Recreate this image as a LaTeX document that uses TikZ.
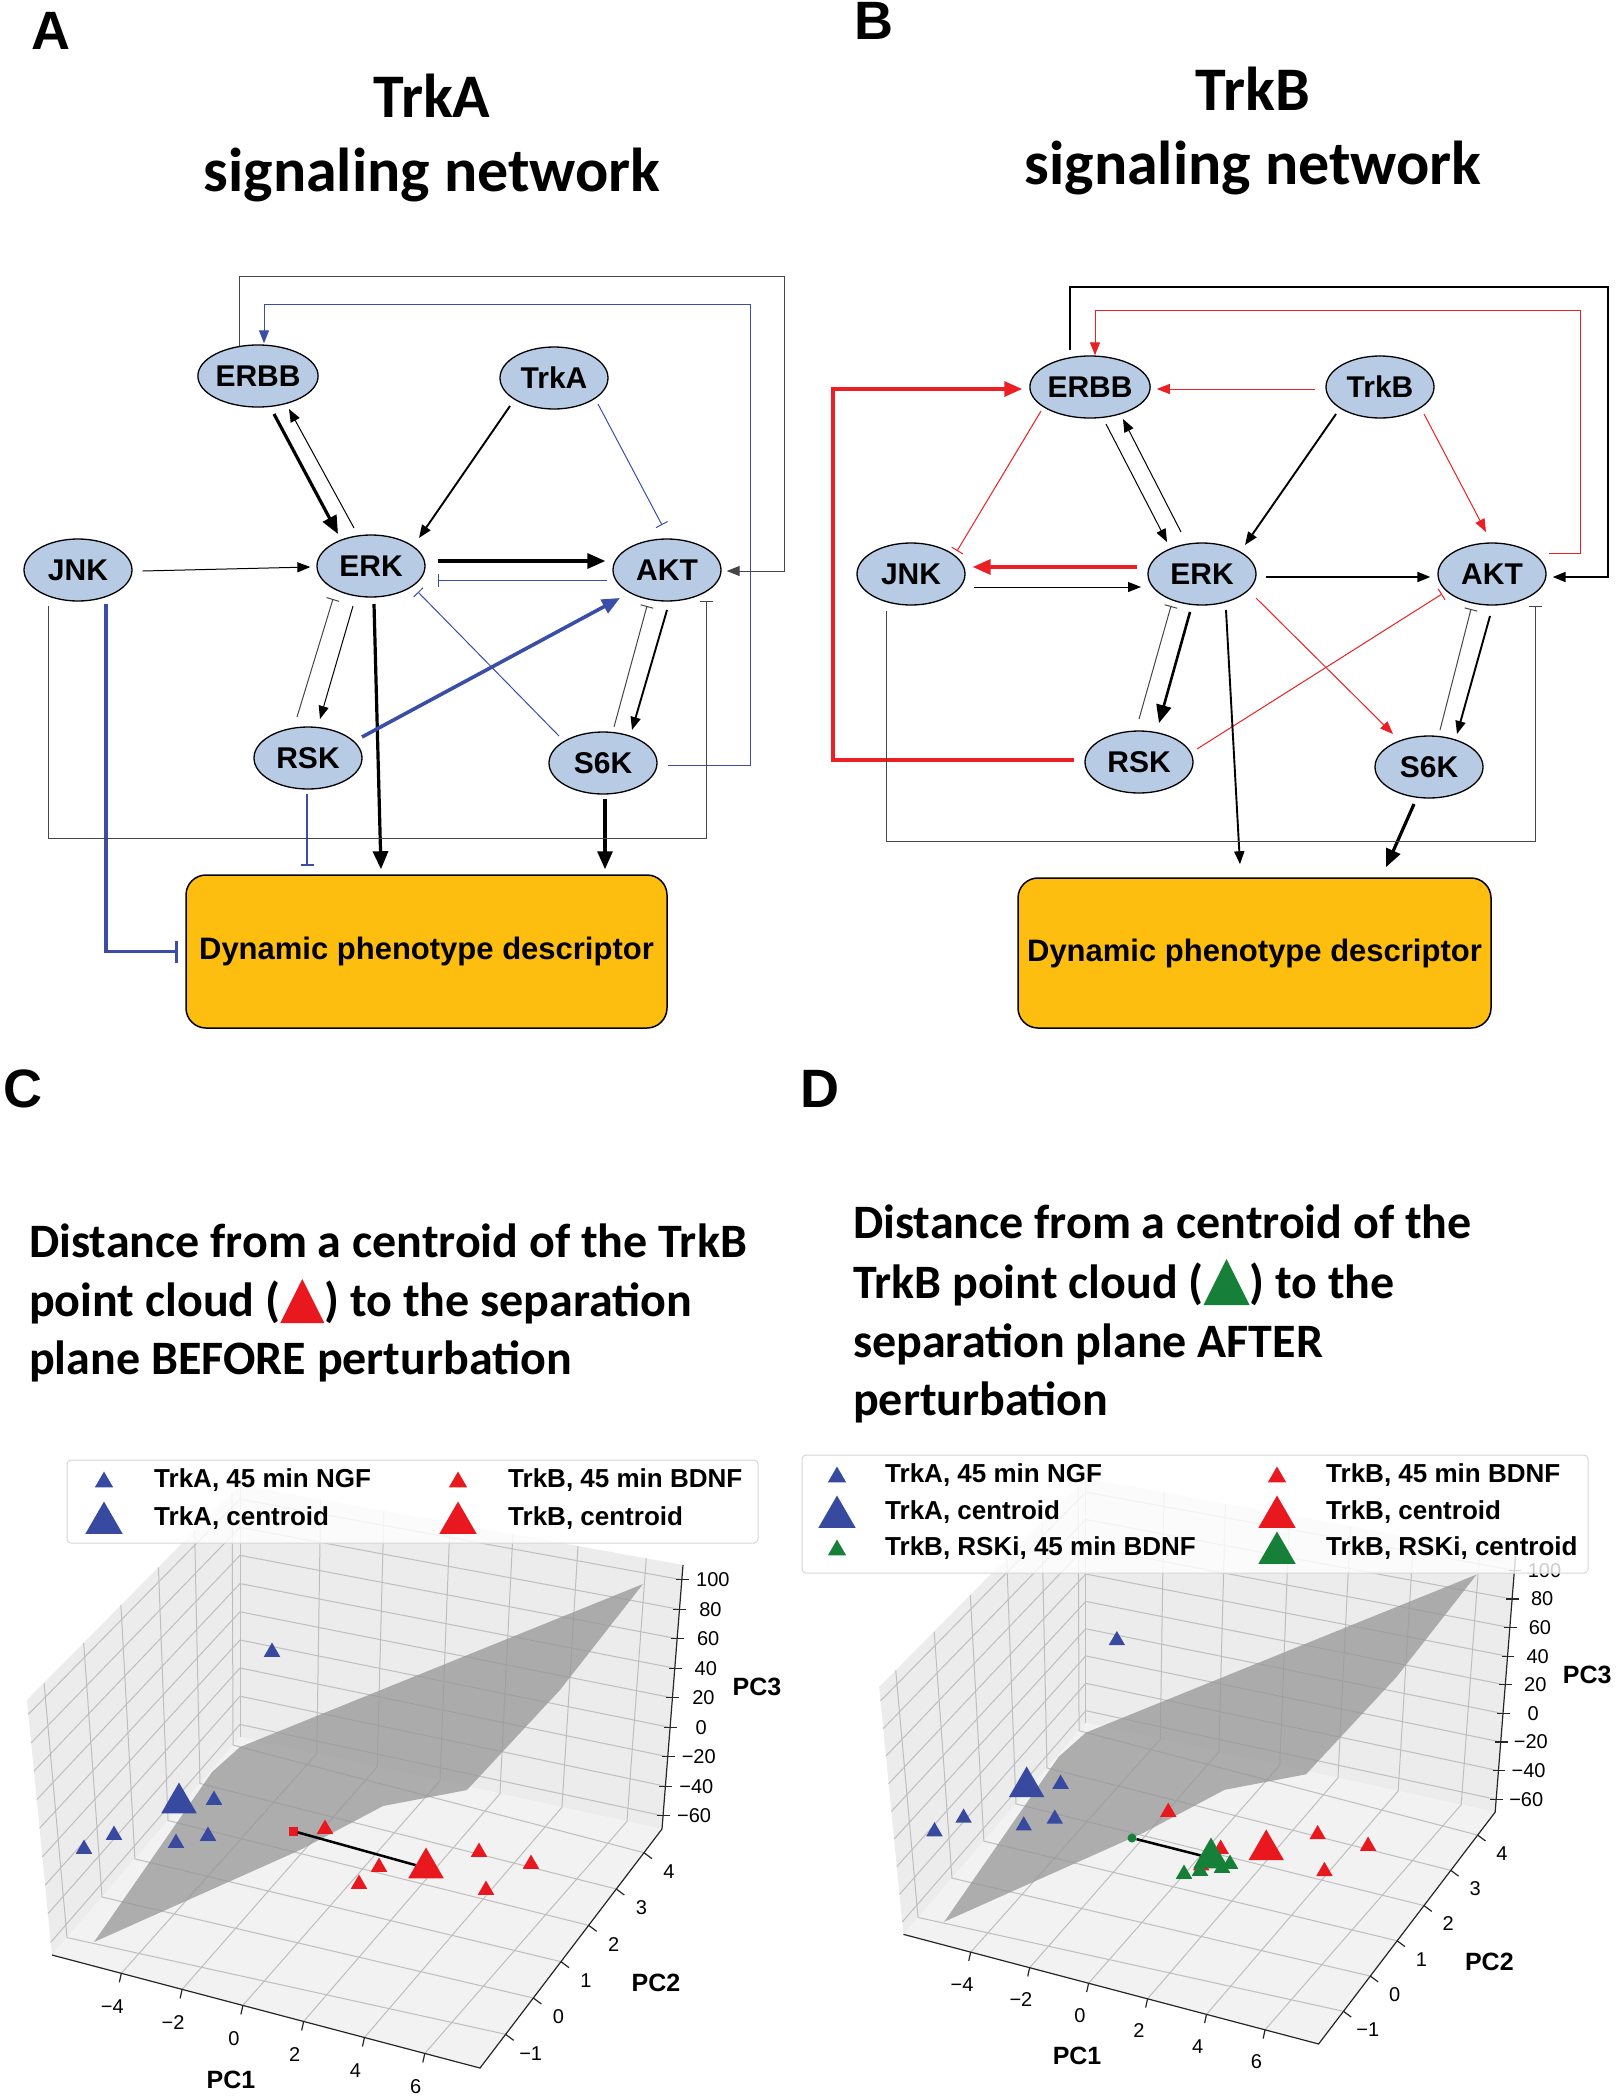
\documentclass[tikz,border=0pt]{standalone}
\usepackage{fontspec}
\setmainfont{Liberation Sans}
\newfontfamily\calib{Carlito}
\usetikzlibrary{arrows.meta,shapes.geometric,calc}
\definecolor{nodefill}{RGB}{184,203,228}
\definecolor{dpdc}{RGB}{253,190,16}
\definecolor{bl}{RGB}{58,78,168}
\definecolor{rd}{RGB}{236,32,36}
\definecolor{gr}{RGB}{70,70,70}
\definecolor{mblue}{RGB}{56,74,160}
\definecolor{mred}{RGB}{232,24,30}
\definecolor{mgreen}{RGB}{22,128,56}
\definecolor{wallc}{RGB}{236,236,236}
\definecolor{floorc}{RGB}{242,242,242}
\definecolor{gridc}{RGB}{190,190,190}
\definecolor{planec}{RGB}{150,150,150}
\definecolor{legedge}{RGB}{215,215,215}
\tikzset{
 prot/.style={ellipse, draw=black, line width=1.3pt, fill=nodefill, minimum width=108pt, minimum height=62pt, inner sep=0pt, font=\fontsize{30}{32}\selectfont\bfseries},
 dpdbox/.style={rectangle, rounded corners=20pt, draw=black, line width=1.5pt, fill=dpdc, inner sep=0pt, font=\fontsize{31}{33}\selectfont\bfseries},
 e1/.style={line width=1pt},
 e2/.style={line width=1.9pt},
 e3/.style={line width=3.2pt},
 ah/.style={-{Triangle[length=13pt,width=10pt]}},
 ahb/.style={-{Triangle[length=18pt,width=15pt]}},
 ih/.style={-{Bar[width=13pt]}},
 ihb/.style={-{Bar[width=22pt]}},
 lab/.style={inner sep=0pt, anchor=base west, font=\fontsize{54}{54}\selectfont\bfseries},
 ttl/.style={inner sep=0pt, anchor=base, font=\calib\fontsize{62}{62}\selectfont\bfseries},
 ptl/.style={inner sep=0pt, anchor=base west, font=\calib\fontsize{48}{48}\selectfont\bfseries},
 mk/.style={regular polygon, regular polygon sides=3, inner sep=0pt, draw=none},
 gridl/.style={draw=gridc, line width=1pt},
 axl/.style={draw=black!85, line width=1.2pt},
 tickf/.style={inner sep=0pt, font=\fontsize{20}{20}\selectfont},
 axlab/.style={inner sep=0pt, font=\fontsize{25}{25}\selectfont\bfseries},
 legt/.style={inner sep=0pt, anchor=west, font=\fontsize{26}{28}\selectfont\bfseries},
}
\newcommand\ttri[2]{\raisebox{-7pt}{\tikz\fill[#1] (0pt,0pt) -- (#2,0pt) -- ({#2/2},#2) -- cycle;}}
\newcommand\plotframe[1]{%
 \begin{scope}
 \clip (27,1380) rectangle (800,2100);
 \fill[wallc] (240,1737) -- (662,1829) -- (683,1565) -- (240,1485) -- cycle;
 \fill[wallc] (52,1955) -- (240,1737) -- (240,1485) -- (27,1700) -- cycle;
 \fill[floorc] (52,1955) -- (480,2068) -- (662,1829) -- (240,1737) -- cycle;
 \foreach \pa/\pb in {0.162/0.182,0.304/0.325,0.446/0.474,0.588/0.616,0.730/0.763,0.871/0.917}{
  \draw[gridl] ({52+428*\pa},{1955+113*\pa}) -- ({240+422*\pb},{1737+92*\pb}) -- ({240+443*\pb},{1485+80*\pb});
 }
 \foreach \pl/\pr in {0.080/0.141,0.266/0.293,0.441/0.445,0.617/0.597,0.787/0.749,0.963/0.901}{
  \draw[gridl] ({480+182*\pr},{2068-239*\pr}) -- ({52+188*\pl},{1955-218*\pl}) -- ({27+213*\pl},{1700-215*\pl});
 }
 \foreach \pt in {0.050,0.162,0.274,0.385,0.497,0.609,0.721,0.832,0.944}{
  \draw[gridl] ({52-25*\pt},{1955-255*\pt}) -- (240,{1737-252*\pt}) -- ({662+21*\pt},{1829-264*\pt});
 }
 \draw[gridl] (240,1737) -- (240,1485);
 \end{scope}
 \fill[planec, fill opacity=0.75] (643,1584) -- (240,1747) -- (212,1772) -- (94,1942) -- (300,1850) -- (383,1806) -- (467,1790) -- (560,1690) -- cycle;
 \draw[axl] (52,1955) -- (480,2068) -- (662,1829) -- (683,1565);
 \foreach \pa/\lab [count=\i] in {0.162/−4,0.304/−2,0.446/0,0.588/2,0.730/4,0.871/6}{
  \draw[axl] ({52+428*\pa},{1955+113*\pa}) -- ++(-2,9);
  \node[tickf] (#1-xt\i) at ({52+428*\pa-9},{1955+113*\pa+33}) {\lab};
 }
 \foreach \pr/\lab [count=\i] in {0.141/−1,0.293/0,0.445/1,0.597/2,0.749/3,0.901/4}{
  \draw[axl] ({480+182*\pr},{2068-239*\pr}) -- ++(8,6);
  \node[tickf] (#1-yt\i) at ({480+182*\pr+25},{2068-239*\pr+19}) {\lab};
 }
 \foreach \pt/\lab [count=\i] in {0.050/−60,0.162/−40,0.274/−20,0.385/0,0.497/20,0.609/40,0.721/60,0.832/80,0.944/100}{
  \draw[axl] ({662+21*\pt-6},{1829-264*\pt}) -- ++(13,0);
  \node[tickf] (#1-zt\i) at ({662+21*\pt+31},{1829-264*\pt}) {\lab};
 }
 \node[axlab] (#1-pc3) at (757,1687) {PC3};
 \node[axlab] (#1-pc2) at (656,1983) {PC2};
 \node[axlab] (#1-pc1) at (231,2080) {PC1};
}
\newcommand\bluered[1]{%
 \foreach \px/\py [count=\i] in {272/1650,84/1847,114/1833,176/1841,208/1834,214/1798}{
  \node[mk, fill=mblue, minimum size=19pt] (#1-bs\i) at (\px,{\py+2}) {};
 }
 \node[mk, fill=mblue, minimum size=41pt] (#1-bc) at (179,1803) {};
 \foreach \px/\py [count=\i] in {325/1827,379/1865,359/1882,479/1850,531/1862,486/1888}{
  \node[mk, fill=mred, minimum size=19pt] (#1-rs\i) at (\px,{\py+2}) {};
 }
 \node[mk, fill=mred, minimum size=41pt] (#1-rc) at (426,1868) {};
}
\begin{document}
\begin{tikzpicture}[x=1pt,y=-1pt]
\useasboundingbox (0,0) rectangle (1622,2100);
\fill[white] (0,0) rectangle (1622,2100);
% ---------------- Panel A ----------------
\node[lab] (labA) at (31,50) {A};
\node[ttl] (tA1) at (432,118) {TrkA};
\node[ttl] (tA2) at (432,192) {signaling network};
\node[prot] (aERBB) at (258,376) {ERBB};
\node[prot] (aTrkA) at (554,378) {TrkA};
\node[prot] (aJNK) at (78,570) {JNK};
\node[prot] (aERK) at (371,566) {ERK};
\node[prot] (aAKT) at (667,570) {AKT};
\node[prot] (aRSK) at (308,758) {RSK};
\node[prot] (aS6K) at (603,763) {S6K};
\node[dpdbox, minimum width=481pt, minimum height=153pt] (aDPD) at (426.5,951.5) {Dynamic phenotype descriptor};
\coordinate (ac1) at (784,276);
\draw[e1, gr, ah] ($(aERBB)+(-19,-30)$) |- (ac1) |- ($(aAKT.east)+(5,1)$);
\coordinate (ac2) at (750,304);
\draw[e1, bl, ah] ($(aS6K.east)+(10,2)$) -| (ac2) -| ($(aERBB.north)+(6,-1)$);
\draw[e3, ahb] ($(aERBB)+(16,38)$) -- ($(aERK)+(-33,-32)$);
\draw[e1, ah] ($(aERK)+(-17,-38)$) -- ($(aERBB)+(31,33)$);
\draw[e2, ah] ($(aTrkA)+(-44,28)$) -- ($(aERK)+(48,-28)$);
\draw[e1, bl, ih] ($(aTrkA)+(44,26)$) -- ($(aAKT)+(-5,-45)$);
\draw[e1, ah] ($(aJNK.east)+(10,1)$) -- ($(aERK.west)+(-6,1)$);
\draw[e3, ahb] ($(aERK.east)+(12,-5)$) -- ($(aAKT.west)+(-7,-9)$);
\draw[e1, bl, ih] ($(aAKT.west)+(-5,10)$) -- ($(aERK.east)+(12,14)$);
\draw[e1, gr, ih] ($(aRSK)+(-11,-41)$) -- ($(aERK)+(-38,33)$);
\draw[e1, ah] ($(aERK)+(-18,40)$) -- ($(aRSK)+(12,-39)$);
\draw[e3, ahb] ($(aERK)+(3,38)$) -- ($(aDPD.north)+(-45.5,-5)$);
\draw[line width=3.6pt, bl, ahb] ($(aRSK)+(54,-21)$) -- ($(aAKT)+(-47,28)$);
\draw[e1, bl, ih] ($(aS6K)+(-44,-27)$) -- ($(aERK)+(47,26)$);
\draw[e2, ah] ($(aAKT)+(0,40)$) -- ($(aS6K)+(29,-33)$);
\draw[e1, gr, ih] ($(aS6K)+(11,-36)$) -- ($(aAKT)+(-20,36)$);
\draw[e3, ahb] ($(aS6K)+(2,36)$) -- ($(aDPD.north)+(178.5,-5)$);
\draw[e2, bl, ih] ($(aRSK)+(-1,36)$) -- ($(aDPD.north)+(-119.5,-8)$);
\draw[e3, bl, ihb] ($(aJNK)+(28,34)$) |- ($(aDPD.west)+(-7,0)$);
\coordinate (ac3) at (706,838);
\draw[e1, gr, ih] ($(aJNK)+(-30,36)$) |- (ac3) -- ($(aAKT)+(39,31)$);
% ---------------- Panel B ----------------
\node[lab] (labB) at (854,40) {B};
\node[ttl] (tB1) at (1253,111) {TrkB};
\node[ttl] (tB2) at (1253,185) {signaling network};
\node[prot] (bERBB) at (1090,387) {ERBB};
\node[prot] (bTrkB) at (1380,387) {TrkB};
\node[prot] (bJNK) at (911,574) {JNK};
\node[prot] (bERK) at (1202,574) {ERK};
\node[prot] (bAKT) at (1492,574) {AKT};
\node[prot] (bRSK) at (1139,762) {RSK};
\node[prot] (bS6K) at (1429,767) {S6K};
\node[dpdbox, minimum width=473pt, minimum height=150pt] (bDPD) at (1254.5,953) {Dynamic phenotype descriptor};
\coordinate (bc1) at (1608,287);
\draw[e2, ah] ($(bERBB)+(-20,-37)$) |- (bc1) |- ($(bAKT.east)+(6,3)$);
\coordinate (bc2) at (1580,310);
\draw[e1, rd, ah] ($(bAKT)+(57,-21)$) -| (bc2) -| ($(bERBB.north)+(5,0)$);
\coordinate (bc3) at (833,389);
\draw[e3, rd, ahb] ($(bRSK.west)+(-10,-2)$) -| (bc3) -- ($(bERBB.west)+(-7,2)$);
\draw[e1, rd, ah] ($(bTrkB.west)+(-10,2)$) -- ($(bERBB.east)+(6,2)$);
\draw[e1, rd, ih] ($(bERBB)+(-49,24)$) -- ($(bJNK)+(46,-23)$);
\draw[e1, ah] ($(bERBB)+(16,37)$) -- ($(bERK)+(-35,-32)$);
\draw[e1, ah] ($(bERK)+(-21,-42)$) -- ($(bERBB)+(33,32)$);
\draw[e2, ah] ($(bTrkB)+(-44,27)$) -- ($(bERK)+(43,-29)$);
\draw[e1, rd, ah] ($(bTrkB)+(44,27)$) -- ($(bAKT)+(-6,-42)$);
\draw[e3, rd, ahb] ($(bERK.west)+(-10,-7)$) -- ($(bJNK.east)+(7,-7)$);
\draw[e1, ah] ($(bJNK)+(63,13)$) -- ($(bERK)+(-61,13)$);
\draw[e2, ah] ($(bERK.east)+(9,3)$) -- ($(bAKT.west)+(-7,3)$);
\draw[e1, rd, ih] ($(bRSK)+(58,-13)$) -- ($(bAKT)+(-50,20)$);
\draw[e1, rd, ah] ($(bERK)+(54,24)$) -- ($(bS6K)+(-36,-33)$);
\draw[e2, ah] ($(bERK)+(24,36)$) -- ($(bDPD.north)+(-14.5,-13)$);
\draw[e1, gr, ih] ($(bRSK)+(0,-43)$) -- ($(bERK)+(-31,32)$);
\draw[line width=2.6pt, ahb] ($(bERK)+(-12,38)$) -- ($(bRSK)+(20,-39)$);
\draw[e2, ah] ($(bAKT)+(-2,42)$) -- ($(bS6K)+(28,-33)$);
\draw[e1, gr, ih] ($(bS6K)+(11,-37)$) -- ($(bAKT)+(-21,35)$);
\draw[e3, ahb] ($(bS6K)+(-15,37)$) -- ($(bDPD.north)+(131.5,-10)$);
\coordinate (bc4) at (1535,841);
\draw[e1, gr, ih] ($(bJNK)+(-25,37)$) |- (bc4) -- ($(bAKT)+(43,32)$);
% ---------------- Panel C ----------------
\node[lab] (labC) at (3,1107) {C};
\node[ptl] (cT1) at (29,1257) {Distance from a centroid of the TrkB};
\node[ptl] (cT2) at (29,1316) {point cloud (\ttri{mred}{44pt}) to the separation};
\node[ptl] (cT3) at (29,1374) {plane BEFORE perturbation};
\plotframe{c}
\bluered{c}
\node[rectangle, fill=mred, minimum size=9pt, inner sep=0pt] (c-sq) at (293,1831) {};
\draw[line width=2.5pt] (c-sq) -- (c-rc);
\draw[rounded corners=4pt, fill=white, fill opacity=0.8, draw=legedge, line width=1pt] (67,1460) rectangle (758,1543);
\node[mk, fill=mblue, minimum size=21pt] (c-l1) at (104,1482) {};
\node[legt] (c-lt1) at (154,1480) {TrkA, 45 min NGF};
\node[mk, fill=mblue, minimum size=43pt] (c-l2) at (104,1523) {};
\node[legt] (c-lt2) at (154,1518) {TrkA, centroid};
\node[mk, fill=mred, minimum size=21pt] (c-l3) at (458,1482) {};
\node[legt] (c-lt3) at (508,1480) {TrkB, 45 min BDNF};
\node[mk, fill=mred, minimum size=43pt] (c-l4) at (458,1523) {};
\node[legt] (c-lt4) at (508,1518) {TrkB, centroid};
% ---------------- Panel D ----------------
\node[lab] (labD) at (800,1107) {D};
\node[ptl] (dT1) at (853,1238) {Distance from a centroid of the};
\node[ptl] (dT2) at (853,1298) {TrkB point cloud (\ttri{mgreen}{46pt}) to the};
\node[ptl] (dT3) at (853,1357) {separation plane AFTER};
\node[ptl] (dT4) at (853,1415) {perturbation};
\begin{scope}[shift={(853,38)}, scale=0.97]
\plotframe{d}
\bluered{d}
\end{scope}
\foreach \px/\py [count=\i] in {1184/1872,1230/1862,1200/1869,1222/1866}{
 \node[mk, fill=mgreen, minimum size=19pt] (d-gs\i) at (\px,{\py+2}) {};
}
\node[circle, fill=mgreen, minimum size=9pt, inner sep=0pt] (d-gdot) at (1132,1838) {};
\node[mk, fill=mgreen, minimum size=41pt] (d-gc) at (1211,1858) {};
\draw[line width=2.5pt] (d-gdot) -- (d-gc);
\draw[rounded corners=4pt, fill=white, fill opacity=0.8, draw=legedge, line width=1pt] (802,1455) rectangle (1588,1573);
\node[mk, fill=mblue, minimum size=21pt] (d-l1) at (837,1477) {};
\node[legt] (d-lt1) at (885,1475) {TrkA, 45 min NGF};
\node[mk, fill=mblue, minimum size=43pt] (d-l2) at (837,1517) {};
\node[legt] (d-lt2) at (885,1512) {TrkA, centroid};
\node[mk, fill=mgreen, minimum size=21pt] (d-l3) at (837,1550) {};
\node[legt] (d-lt3) at (885,1548) {TrkB, RSKi, 45 min BDNF};
\node[mk, fill=mred, minimum size=21pt] (d-l4) at (1277,1477) {};
\node[legt] (d-lt4) at (1326,1475) {TrkB, 45 min BDNF};
\node[mk, fill=mred, minimum size=43pt] (d-l5) at (1277,1517) {};
\node[legt] (d-lt5) at (1326,1512) {TrkB, centroid};
\node[mk, fill=mgreen, minimum size=43pt] (d-l6) at (1277,1553) {};
\node[legt] (d-lt6) at (1326,1548) {TrkB, RSKi, centroid};
\end{tikzpicture}
\end{document}
